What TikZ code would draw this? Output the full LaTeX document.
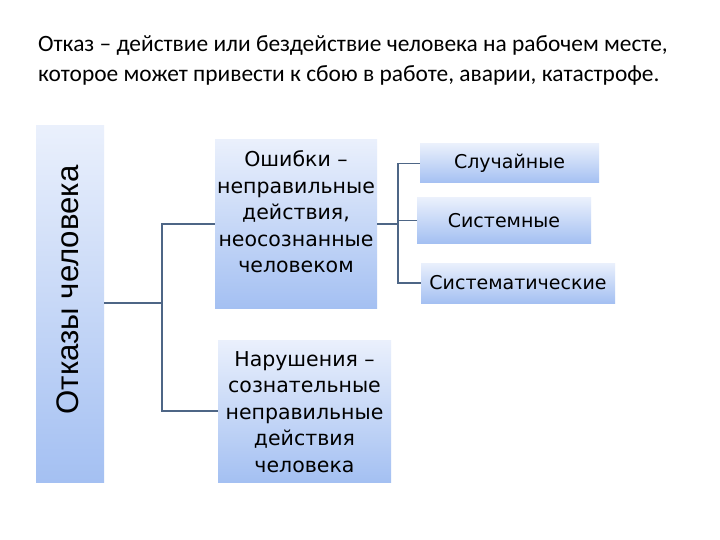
\documentclass[tikz,border=0pt]{standalone}
\usepackage{fontspec}
\setmainfont{Carlito}
\newfontfamily\boxfont{DejaVu Sans}
\newfontfamily\sidefont{Liberation Sans}
\definecolor{boxtop}{RGB}{234,240,252}
\definecolor{boxbot}{RGB}{164,192,242}
\definecolor{linecol}{RGB}{78,102,134}
\tikzset{
  gbox/.style={inner sep=0pt, top color=boxtop, bottom color=boxbot, draw=none},
  btext/.style={font=\boxfont\fontsize{20.5}{26.5}\selectfont, align=center, inner sep=0pt, text=black},
  stext/.style={font=\boxfont\fontsize{19}{24}\selectfont, inner sep=0pt, text=black},
  ttext/.style={anchor=base west, inner sep=0pt, font=\fontsize{23.4}{30}\selectfont},
  conn/.style={draw=linecol, line width=1.8pt}
}
\begin{document}
\begin{tikzpicture}[x=1pt,y=-1pt]
\useasboundingbox (0,0) rectangle (720,540);
\fill[white] (0,0) rectangle (720,540);

\node[ttext] (title1) at (38,52) {Отказ – действие или бездействие человека на рабочем месте,};
\node[ttext] (title2) at (38,82) {которое может привести к сбою в работе, аварии, катастрофе.};

\node[gbox, minimum width=68pt, minimum height=356pt] (left) at (70,304) {};
\node[rotate=90, inner sep=0pt, font=\sidefont\fontsize{31.2}{36}\selectfont] (lefttxt) at (68,290) {Отказы человека};

\node[gbox, minimum width=162pt, minimum height=168pt] (osh) at (296,224) {};
\node[btext] (oshtxt) at (296,212) {Ошибки –\\неправильные\\действия,\\неосознанные\\человеком};

\node[gbox, minimum width=173pt, minimum height=142pt] (nar) at (304.5,411) {};
\node[btext] (nartxt) at (304.5,412) {Нарушения –\\сознательные\\неправильные\\действия\\человека};

\node[gbox, minimum width=179pt, minimum height=39pt] (sl) at (509.5,163.5) {};
\node[stext] (sltxt) at (sl.center) {Случайные};
\node[gbox, minimum width=174pt, minimum height=45pt] (sys) at (504,220.5) {};
\node[stext] (systxt) at (sys.center) {Системные};
\node[gbox, minimum width=194pt, minimum height=40pt] (stm) at (518,283) {};
\node[stext] (stmtxt) at (stm.center) {Систематические};

\coordinate (j1) at (162,303);
\coordinate (j2) at (398,224);
\draw[conn] (left.east |- j1) -- (j1);
\draw[conn] (osh.west) -| (j1) |- (nar.west);
\draw[conn] (osh.east) -- (j2);
\draw[conn] (sl.west) -| (j2) |- (stm.west);
\draw[conn] (j2) |- (sys.west);
\end{tikzpicture}
\end{document}
